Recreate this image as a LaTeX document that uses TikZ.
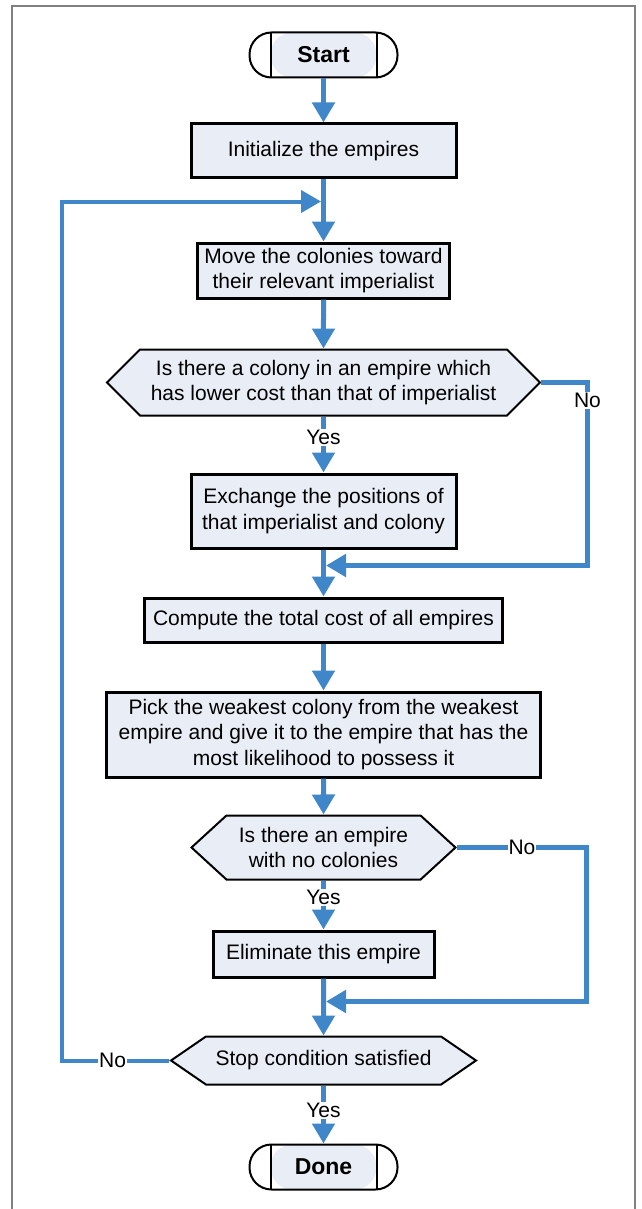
\documentclass[tikz,border=0pt]{standalone}
\usepackage{fontspec}
\setmainfont{Liberation Sans}
\usepackage{tikz}
\usetikzlibrary{positioning, arrows.meta, shapes.symbols}
\usepackage{xcolor}
\definecolor{icaBlue}{HTML}{3F87C8}
\definecolor{icaFill}{HTML}{E9EDF6}
\definecolor{icaFrame}{HTML}{808080}

\begin{document}
\begin{tikzpicture}[
        x=1pt, y=-1pt,
        font=\fontsize{21}{25.5}\selectfont,
        box/.style={
          rectangle, draw=black, fill=icaFill,
          line width=3pt, align=center, inner sep=2pt
        },
        decision/.style={
          signal, signal to=east and west, draw=black, fill=icaFill,
          line width=2pt, align=center, inner sep=0pt
        },
        terminal/.style={
          rectangle, rounded corners=22pt, draw=black, fill=white,
          line width=2pt, minimum width=148pt, minimum height=45pt,
          font=\fontsize{23}{27}\selectfont\bfseries,
          path picture={
            \fill[icaFill] ([xshift=21pt]path picture bounding box.north west) rectangle ([xshift=-21pt]path picture bounding box.south east);
            \draw[line width=2pt] ([xshift=21pt]path picture bounding box.north west) -- ([xshift=21pt]path picture bounding box.south west);
            \draw[line width=2pt] ([xshift=-21pt]path picture bounding box.north east) -- ([xshift=-21pt]path picture bounding box.south east);
          }
        },
        edge/.style={-{Triangle[length=20pt, width=22pt]}, line width=5pt, draw=icaBlue},
        backEdge/.style={edge, line width=4pt},
        lbl/.style={fill=white, inner sep=1pt}
      ]
      \useasboundingbox (0,0) rectangle (641,1209);

      % --- MARCO ---
      \draw[icaFrame, line width=2pt] (12,1209) -- (12,6) -- (635,6) -- (635,1209);

      % --- BLOQUES PRINCIPALES ---
      \node[terminal] (start) at (323.5,55) {Start};
      \node[box, minimum width=265pt, minimum height=54pt, below=44pt of start] (init) {Initialize the empires};
      \node[box, minimum width=252pt, minimum height=55pt, below=62pt of init] (move) {Move the colonies toward\\their relevant imperialist};
      \node[decision, minimum width=433pt, minimum height=66pt, signal pointer angle=90, below=49pt of move] (colonyTest) {Is there a colony in an empire which\\has lower cost than that of imperialist};
      \node[box, minimum width=265pt, minimum height=74pt, below=56pt of colonyTest] (exchange) {Exchange the positions of\\that imperialist and colony};
      \node[box, minimum width=358pt, minimum height=44pt, below=47pt of exchange] (totalCost) {Compute the total cost of all empires};
      \node[box, minimum width=434pt, minimum height=85pt, below=47pt of totalCost] (competition) {Pick the weakest colony from the weakest\\empire and give it to the empire that has the\\most likelihood to possess it};
      \node[decision, minimum width=264pt, minimum height=64pt, signal pointer angle=85, below=36pt of competition] (emptyTest) {Is there an empire\\with no colonies};
      \node[box, minimum width=221pt, minimum height=46pt, below=49pt of emptyTest] (eliminate) {Eliminate this empire};
      \node[decision, minimum width=305pt, minimum height=48pt, signal pointer angle=69, below=57pt of eliminate] (stopTest) {Stop condition satisfied};
      \node[terminal, below=58pt of stopTest] (done) {Done};

      % --- PUNTOS DE UNION ---
      \coordinate[below=22pt of init.south, xshift=-2.5pt] (loopIn);
      \coordinate[below=16pt of exchange.south, xshift=2.5pt] (joinA);
      \coordinate[below=23pt of eliminate.south, xshift=2.5pt] (joinB);

      % --- FLUJO ---
      \draw[edge] (start) -- (init);
      \draw[edge] (init) -- (move);
      \draw[edge] (move) -- (colonyTest);
      \draw[edge] (colonyTest) -- node[lbl, pos=0.37]{Yes} (exchange);
      \draw[edge] (exchange) -- (totalCost);
      \draw[edge] (totalCost) -- (competition);
      \draw[edge] (competition) -- (emptyTest);
      \draw[edge] (emptyTest) -- node[lbl, pos=0.35]{Yes} (eliminate);
      \draw[edge] (eliminate) -- (stopTest);
      \draw[edge] (stopTest) -- node[lbl, pos=0.43]{Yes} (done);

      % --- RAMAS "NO" ---
      \draw[edge] (colonyTest.east) -- ++(46,0) coordinate (noA)
        -- node[lbl, pos=0.1]{No} (noA |- joinA) -- (joinA);
      \draw[edge] (emptyTest.east) -- node[lbl]{No} ++(130,0) coordinate (noB)
        -- (noB |- joinB) -- (joinB);
      \draw[backEdge] (stopTest.west) -- node[lbl, pos=0.53]{No} ++(-107,0) coordinate (noC)
        -- (noC |- loopIn) -- (loopIn);

    \end{tikzpicture}
\end{document}
